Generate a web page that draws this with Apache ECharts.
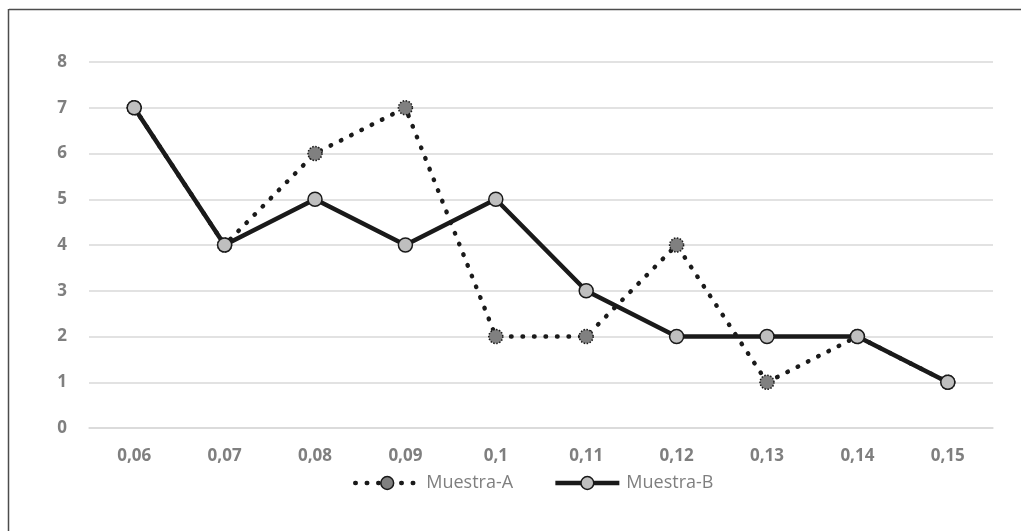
<!DOCTYPE html>
<html>
<head>
<meta charset="utf-8">
<script src="https://cdn.jsdelivr.net/npm/echarts@6/dist/echarts.min.js"></script>
<style>
  html, body { margin: 0; padding: 0; background: #ffffff; }
  #chart { width: 1021px; height: 531px; }
</style>
</head>
<body>
<div id="chart"></div>
<script>
// Category labels (x axis)
const categories = ['0,06', '0,07', '0,08', '0,09', '0,1', '0,11', '0,12', '0,13', '0,14', '0,15'];
// Series values
const muestraA = [7, 4, 6, 7, 2, 2, 4, 1, 2, 1];
const muestraB = [7, 4, 5, 4, 5, 3, 2, 2, 2, 1];
// Y axis range
const yMin = 0;
const yMax = 8;
const yStep = 1;

const labelFont = '"Open Sans", "Noto Sans", "DejaVu Sans", sans-serif';

const chart = echarts.init(document.getElementById('chart'), null, { renderer: 'canvas' });

chart.setOption({
  backgroundColor: '#ffffff',
  animation: false,
  grid: { left: 89, right: 28, top: 62, bottom: 103, containLabel: false },
  graphic: [
    // frame lines along the top and left edges
    { type: 'line', shape: { x1: 9, y1: 9.5, x2: 1021, y2: 9.5 }, style: { stroke: '#4d4d4d', lineWidth: 1.5 } },
    { type: 'line', shape: { x1: 8.5, y1: 9, x2: 8.5, y2: 531 }, style: { stroke: '#4d4d4d', lineWidth: 1.5 } }
  ],
  xAxis: {
    type: 'category',
    data: categories,
    boundaryGap: true,
    axisLine: { show: true, lineStyle: { color: '#d9d9d9', width: 1.5 } },
    axisTick: { show: false },
    axisLabel: {
      color: '#7f7f7f', fontWeight: 'bold', fontSize: 17, fontFamily: labelFont, margin: 20
    }
  },
  yAxis: {
    type: 'value',
    min: yMin, max: yMax, interval: yStep,
    axisLine: { show: false },
    axisTick: { show: false },
    splitLine: { lineStyle: { color: '#d9d9d9', width: 1.5 } },
    axisLabel: {
      color: '#7f7f7f', fontWeight: 'bold', fontSize: 17, fontFamily: labelFont, margin: 22
    }
  },
  legend: {
    top: 469,
    left: 348,
    itemWidth: 64,
    itemHeight: 16,
    itemGap: 40,
    textStyle: { color: '#7f7f7f', fontSize: 18, fontFamily: labelFont, padding: [0, 0, 0, 2] },
    lineStyle: { width: 4.5 },
    itemStyle: { borderWidth: 1.5 },
    data: ['Muestra-A', 'Muestra-B']
  },
  series: [
    {
      name: 'Muestra-A',
      type: 'line',
      data: muestraA,
      symbol: 'circle',
      symbolSize: 14,
      z: 2,
      lineStyle: { color: '#1a1a1a', width: 4.5, type: [0.5, 11], cap: 'round' },
      itemStyle: { color: '#808080', borderColor: '#1a1a1a', borderWidth: 1.5, borderType: [1.5, 1.5] }
    },
    {
      name: 'Muestra-B',
      type: 'line',
      data: muestraB,
      symbol: 'circle',
      symbolSize: 14,
      z: 3,
      lineStyle: { color: '#1a1a1a', width: 4.5 },
      itemStyle: { color: '#bfbfbf', borderColor: '#1a1a1a', borderWidth: 1.5 }
    }
  ]
});
</script>
</body>
</html>
